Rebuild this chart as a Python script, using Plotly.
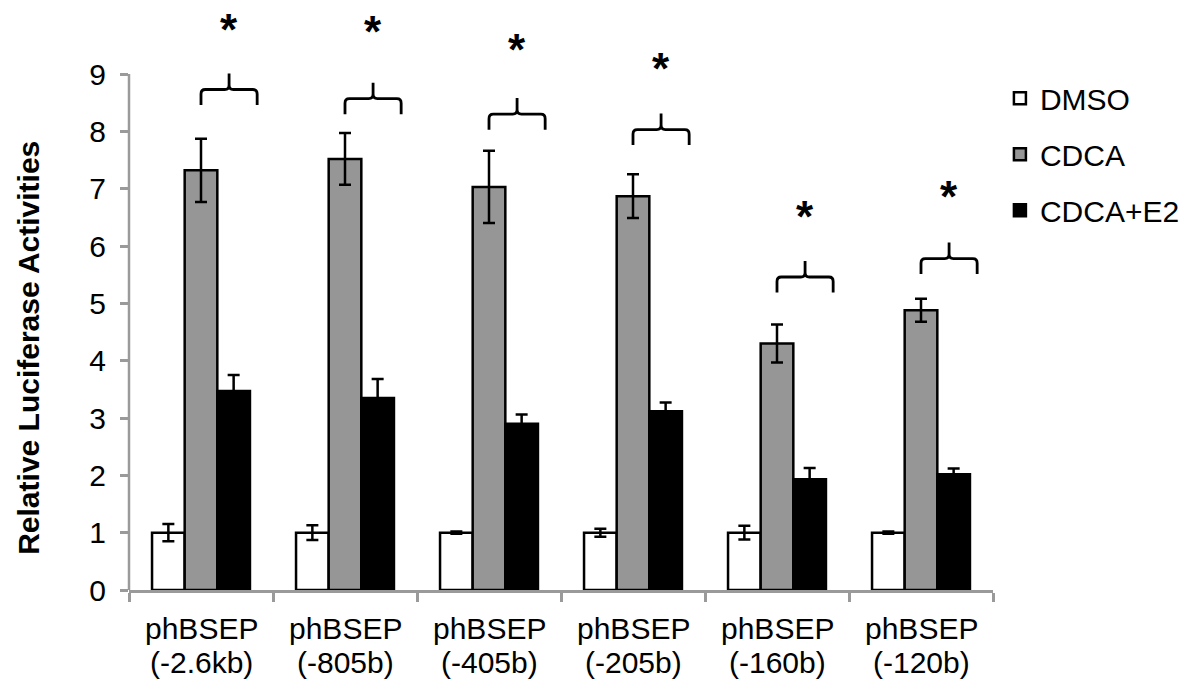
import plotly.graph_objects as go

# Promoter constructs (x categories): reporter name and promoter length
construct_names = ["phBSEP", "phBSEP", "phBSEP", "phBSEP", "phBSEP", "phBSEP"]
construct_lengths = ["(-2.6kb)", "(-805b)", "(-405b)", "(-205b)", "(-160b)", "(-120b)"]

# Relative luciferase activities (mean) and error (SD) per treatment
dmso = [1.0, 1.0, 1.0, 1.0, 1.0, 1.0]
dmso_err = [0.15, 0.13, 0.02, 0.07, 0.12, 0.02]
cdca = [7.32, 7.52, 7.03, 6.87, 4.30, 4.88]
cdca_err = [0.55, 0.45, 0.63, 0.38, 0.33, 0.20]
cdca_e2 = [3.47, 3.35, 2.90, 3.12, 1.93, 2.02]
cdca_e2_err = [0.28, 0.33, 0.16, 0.15, 0.20, 0.10]

# Significance bracket heights and asterisk heights (data units)
bracket_level = [8.73, 8.57, 8.30, 8.03, 5.46, 5.78]
star_level = [9.90, 9.86, 9.55, 9.22, 6.64, 6.98]

y_ticks = [0, 1, 2, 3, 4, 5, 6, 7, 8, 9]
y_title = "Relative Luciferase Activities"

AXIS_GRAY = "#9a9a9a"
FONT = "Liberation Sans, Arial, sans-serif"
x_pos = list(range(len(construct_names)))

fig = go.Figure()
series = [
    ("DMSO", dmso, dmso_err, "#ffffff"),
    ("CDCA", cdca, cdca_err, "#969696"),
    ("CDCA+E2", cdca_e2, cdca_e2_err, "#000000"),
]
for name, vals, errs, color in series:
    fig.add_trace(go.Bar(
        name=name, x=x_pos, y=vals, legendgroup=name,
        marker=dict(color=color, line=dict(color="#000000", width=2.5)),
        error_y=dict(type="data", array=errs, visible=True,
                     color="#000000", thickness=2.5, width=6),
    ))

# Curly significance brackets from the CDCA bar to the CDCA+E2 bar
span, leg, tip, rx, ry = 0.39, 0.27, 0.28, 0.03, 0.08
for i, h in enumerate(bracket_level):
    x0, x1 = i, i + span
    xm = (x0 + x1) / 2
    path = (f"M {x0},{h-leg} L {x0},{h-ry} Q {x0},{h} {x0+rx},{h} "
            f"L {xm-rx},{h} Q {xm},{h} {xm},{h+ry} L {xm},{h+tip} "
            f"M {xm},{h+ry} Q {xm},{h} {xm+rx},{h} "
            f"L {x1-rx},{h} Q {x1},{h} {x1},{h-ry} L {x1},{h-leg}")
    fig.add_shape(type="path", path=path, xref="x", yref="y",
                  line=dict(color="#000000", width=2.8))
    fig.add_annotation(x=xm, y=star_level[i], xref="x", yref="y", text="*",
                       showarrow=False, yshift=-7,
                       font=dict(family=FONT, size=44, color="#000000", weight="bold"))

# Two-line category labels under each group
for i, (nm, ln) in enumerate(zip(construct_names, construct_lengths)):
    fig.add_annotation(x=i, y=0, xref="x", yref="paper", text=nm, showarrow=False,
                       yanchor="middle", yshift=-38, font=dict(size=30))
    fig.add_annotation(x=i, y=0, xref="x", yref="paper", text=ln, showarrow=False,
                       yanchor="middle", yshift=-72, font=dict(size=30))

# Rotated value-axis title
fig.add_annotation(x=0, y=0.414, xref="paper", yref="paper", text=y_title,
                   textangle=-90, showarrow=False, xanchor="center", yanchor="middle",
                   xshift=-100, font=dict(size=30, weight="bold"))

# Value axis line, drawn only up to the top tick
fig.add_shape(type="line", xref="paper", yref="y", x0=0, x1=0, y0=0, y1=y_ticks[-1],
              line=dict(color=AXIS_GRAY, width=2.5))

fig.update_layout(
    width=1195, height=683,
    margin=dict(l=129, r=202, t=5, b=93),
    paper_bgcolor="#ffffff", plot_bgcolor="#ffffff",
    barmode="group", bargap=0.32, bargroupgap=0,
    font=dict(family=FONT, size=30, color="#000000"),
    showlegend=True,
    legend=dict(x=1.008, y=0.885, xanchor="left", yanchor="top",
                font=dict(size=30), tracegroupgap=14,
                bgcolor="rgba(0,0,0,0)"),
    xaxis=dict(range=[-0.5, 5.5], tickmode="array", tickvals=x_pos,
               showticklabels=False,
               ticks="", showline=True, linecolor=AXIS_GRAY, linewidth=2.5,
               showgrid=False, zeroline=False,
               minor=dict(tickmode="array", tickvals=[p - 0.5 for p in x_pos] + [5.5],
                          ticks="outside", ticklen=9, tickwidth=2.5, tickcolor=AXIS_GRAY,
                          showgrid=False)),
    yaxis=dict(range=[0, 585 / 57.33], tickmode="array", tickvals=y_ticks,
               ticks="outside", ticklen=8, tickwidth=2.5, tickcolor=AXIS_GRAY,
               ticklabelstandoff=8,
               showline=False, showgrid=False, zeroline=False,
               tickfont=dict(size=30)),
)

fig.write_html("out.html")
